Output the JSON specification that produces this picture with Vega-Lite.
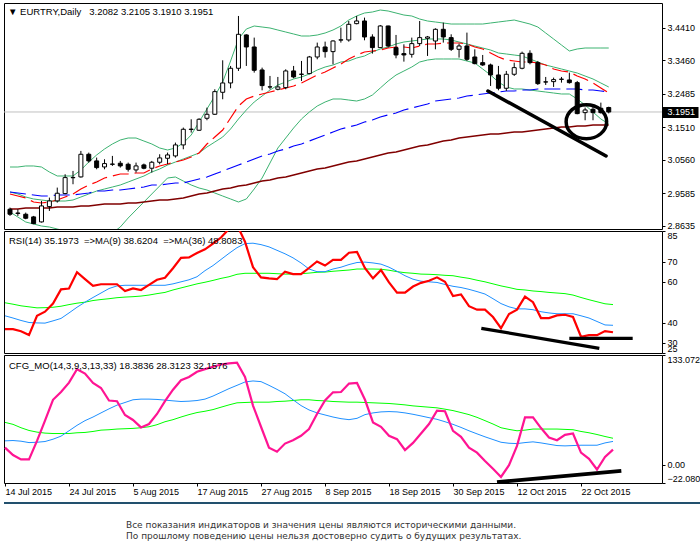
{
  "$schema": "https://vega.github.io/schema/vega-lite/v6.json",
  "padding": {"left": 2, "top": 2, "right": 0, "bottom": 0},
  "background": "white",
  "config": {
    "view": {"stroke": "#000000", "strokeWidth": 1},
    "axis": {"labelFont": "Liberation Sans", "labelFontSize": 9, "labelColor": "#000000", "tickColor": "#000000", "grid": false, "domain": false, "labelOverlap": false},
    "title": {"font": "Liberation Sans", "fontSize": 9.5, "fontWeight": "normal", "color": "#000000", "anchor": "start", "frame": "group"}
  },
  "datasets": {
    "bars": [
      {"d":"2015-07-14","o":2.9111,"h":2.9159,"l":2.8916,"c":2.8965,"bbUp":3.0344,"bbMid":2.9614,"bbLow":2.9030,"maFast":2.9556,"maMid":2.9614,"maSlow":2.9118,"rsi":36.7,"rsiMa9":43.3,"rsiMa36":49.7,"mo":20.8,"moBlue":29.0,"moGreen":51.4},
      {"d":"2015-07-15","o":2.9000,"h":2.9111,"l":2.8916,"c":2.8990,"bbUp":3.0344,"bbMid":2.9556,"bbLow":2.8884,"maFast":2.9497,"maMid":2.9585,"maSlow":2.9118,"rsi":36.7,"rsiMa9":42.2,"rsiMa36":49.0,"mo":11.8,"moBlue":29.4,"moGreen":49.0},
      {"d":"2015-07-16","o":2.8965,"h":2.9013,"l":2.8819,"c":2.8848,"bbUp":3.0374,"bbMid":2.9468,"bbLow":2.8738,"maFast":2.9439,"maMid":2.9556,"maSlow":2.9147,"rsi":35.7,"rsiMa9":41.0,"rsiMa36":48.2,"mo":6.5,"moBlue":28.6,"moGreen":44.9},
      {"d":"2015-07-17","o":2.8887,"h":2.8916,"l":2.8673,"c":2.8692,"bbUp":3.0374,"bbMid":2.9410,"bbLow":2.8680,"maFast":2.9322,"maMid":2.9527,"maSlow":2.9147,"rsi":33.8,"rsiMa9":40.0,"rsiMa36":47.7,"mo":6.5,"moBlue":26.9,"moGreen":41.6},
      {"d":"2015-07-20","o":2.8741,"h":2.9354,"l":2.8722,"c":2.9208,"bbUp":3.0344,"bbMid":2.9381,"bbLow":2.8621,"maFast":2.9293,"maMid":2.9497,"maSlow":2.9147,"rsi":43.3,"rsiMa9":39.8,"rsiMa36":47.2,"mo":29.0,"moBlue":27.3,"moGreen":39.6},
      {"d":"2015-07-21","o":2.9188,"h":2.9451,"l":2.9062,"c":2.9354,"bbUp":3.0198,"bbMid":2.9351,"bbLow":2.8592,"maFast":2.9322,"maMid":2.9497,"maSlow":2.9147,"rsi":45.3,"rsiMa9":39.7,"rsiMa36":47.3,"mo":53.5,"moBlue":28.2,"moGreen":38.4},
      {"d":"2015-07-22","o":2.9354,"h":2.9743,"l":2.9305,"c":2.9578,"bbUp":3.0082,"bbMid":2.9351,"bbLow":2.8534,"maFast":2.9381,"maMid":2.9527,"maSlow":2.9176,"rsi":49.3,"rsiMa9":40.8,"rsiMa36":47.5,"mo":78.8,"moBlue":31.0,"moGreen":37.9},
      {"d":"2015-07-23","o":2.9568,"h":3.0132,"l":2.9549,"c":3.0035,"bbUp":3.0082,"bbMid":2.9351,"bbLow":2.8476,"maFast":2.9468,"maMid":2.9527,"maSlow":2.9176,"rsi":56.3,"rsiMa9":42.0,"rsiMa36":48.0,"mo":88.2,"moBlue":34.7,"moGreen":37.9},
      {"d":"2015-07-24","o":3.0030,"h":3.0230,"l":2.9841,"c":3.0040,"bbUp":3.0082,"bbMid":2.9381,"bbLow":2.8388,"maFast":2.9556,"maMid":2.9527,"maSlow":2.9176,"rsi":56.7,"rsiMa9":44.7,"rsiMa36":48.8,"mo":99.6,"moBlue":41.2,"moGreen":37.9},
      {"d":"2015-07-27","o":3.0055,"h":3.0814,"l":3.0035,"c":3.0716,"bbUp":3.0257,"bbMid":2.9468,"bbLow":2.8330,"maFast":2.9702,"maMid":2.9556,"maSlow":2.9206,"rsi":64.7,"rsiMa9":47.5,"rsiMa36":49.5,"mo":115.9,"moBlue":47.8,"moGreen":38.8},
      {"d":"2015-07-28","o":3.0716,"h":3.0765,"l":3.0473,"c":3.0522,"bbUp":3.0490,"bbMid":2.9556,"bbLow":2.8300,"maFast":2.9819,"maMid":2.9585,"maSlow":2.9206,"rsi":61.3,"rsiMa9":50.0,"rsiMa36":50.0,"mo":110.6,"moBlue":53.5,"moGreen":39.2},
      {"d":"2015-07-29","o":3.0522,"h":3.0619,"l":3.0278,"c":3.0327,"bbUp":3.0695,"bbMid":2.9643,"bbLow":2.8300,"maFast":2.9906,"maMid":2.9643,"maSlow":2.9235,"rsi":58.0,"rsiMa9":52.3,"rsiMa36":50.8,"mo":99.2,"moBlue":57.9,"moGreen":40.4},
      {"d":"2015-07-30","o":3.0346,"h":3.0570,"l":3.0278,"c":3.0444,"bbUp":3.0870,"bbMid":2.9702,"bbLow":2.8330,"maFast":3.0023,"maMid":2.9643,"maSlow":2.9264,"rsi":58.8,"rsiMa9":54.5,"rsiMa36":51.3,"mo":93.1,"moBlue":62.9,"moGreen":42.0},
      {"d":"2015-07-31","o":3.0430,"h":3.0668,"l":3.0376,"c":3.0424,"bbUp":3.1016,"bbMid":2.9760,"bbLow":2.8417,"maFast":3.0081,"maMid":2.9673,"maSlow":2.9264,"rsi":58.8,"rsiMa9":56.7,"rsiMa36":51.7,"mo":77.9,"moBlue":67.8,"moGreen":42.5},
      {"d":"2015-08-03","o":3.0454,"h":3.0522,"l":3.0327,"c":3.0376,"bbUp":3.1133,"bbMid":2.9819,"bbLow":2.8592,"maFast":3.0140,"maMid":2.9673,"maSlow":2.9264,"rsi":58.8,"rsiMa9":58.0,"rsiMa36":52.2,"mo":77.1,"moBlue":72.3,"moGreen":43.3},
      {"d":"2015-08-04","o":3.0424,"h":3.0473,"l":3.0210,"c":3.0278,"bbUp":3.1191,"bbMid":2.9906,"bbLow":2.8855,"maFast":3.0140,"maMid":2.9702,"maSlow":2.9293,"rsi":55.5,"rsiMa9":58.3,"rsiMa36":52.5,"mo":60.4,"moBlue":75.5,"moGreen":43.7},
      {"d":"2015-08-05","o":3.0259,"h":3.0473,"l":3.0181,"c":3.0376,"bbUp":3.1191,"bbMid":2.9994,"bbLow":2.9089,"maFast":3.0169,"maMid":2.9731,"maSlow":2.9293,"rsi":56.8,"rsiMa9":58.3,"rsiMa36":52.7,"mo":54.3,"moBlue":78.8,"moGreen":44.1},
      {"d":"2015-08-06","o":3.0405,"h":3.0444,"l":3.0278,"c":3.0308,"bbUp":3.1103,"bbMid":3.0081,"bbLow":2.9322,"maFast":3.0169,"maMid":2.9760,"maSlow":2.9322,"rsi":56.0,"rsiMa9":58.3,"rsiMa36":53.0,"mo":45.3,"moBlue":79.6,"moGreen":44.9},
      {"d":"2015-08-07","o":3.0308,"h":3.0522,"l":3.0181,"c":3.0483,"bbUp":3.1016,"bbMid":3.0198,"bbLow":2.9556,"maFast":3.0286,"maMid":2.9819,"maSlow":2.9351,"rsi":58.5,"rsiMa9":58.3,"rsiMa36":53.5,"mo":49.4,"moBlue":79.6,"moGreen":46.1},
      {"d":"2015-08-10","o":3.0483,"h":3.0716,"l":3.0424,"c":3.0609,"bbUp":3.0899,"bbMid":3.0286,"bbLow":2.9790,"maFast":3.0373,"maMid":2.9819,"maSlow":2.9381,"rsi":61.0,"rsiMa9":58.3,"rsiMa36":54.2,"mo":61.6,"moBlue":79.2,"moGreen":48.6},
      {"d":"2015-08-11","o":3.0599,"h":3.0765,"l":3.0424,"c":3.0697,"bbUp":3.0841,"bbMid":3.0402,"bbLow":3.0023,"maFast":3.0432,"maMid":2.9848,"maSlow":2.9381,"rsi":62.0,"rsiMa9":58.3,"rsiMa36":54.8,"mo":77.1,"moBlue":78.4,"moGreen":52.2},
      {"d":"2015-08-12","o":3.0668,"h":3.1057,"l":3.0619,"c":3.0989,"bbUp":3.0899,"bbMid":3.0490,"bbLow":3.0052,"maFast":3.0490,"maMid":2.9877,"maSlow":2.9410,"rsi":66.7,"rsiMa9":59.0,"rsiMa36":56.0,"mo":91.0,"moBlue":77.5,"moGreen":54.7},
      {"d":"2015-08-13","o":3.0989,"h":3.1495,"l":3.0862,"c":3.1446,"bbUp":3.1045,"bbMid":3.0578,"bbLow":2.9935,"maFast":3.0549,"maMid":2.9877,"maSlow":2.9439,"rsi":71.8,"rsiMa9":60.0,"rsiMa36":57.0,"mo":102.5,"moBlue":76.7,"moGreen":57.9},
      {"d":"2015-08-14","o":3.1440,"h":3.1738,"l":3.1349,"c":3.1450,"bbUp":3.1279,"bbMid":3.0665,"bbLow":2.9819,"maFast":3.0636,"maMid":2.9935,"maSlow":2.9497,"rsi":72.0,"rsiMa9":61.0,"rsiMa36":58.0,"mo":106.5,"moBlue":77.1,"moGreen":60.8},
      {"d":"2015-08-17","o":3.1417,"h":3.1767,"l":3.1397,"c":3.1738,"bbUp":3.1658,"bbMid":3.0753,"bbLow":2.9731,"maFast":3.0753,"maMid":2.9994,"maSlow":2.9556,"rsi":74.2,"rsiMa9":62.5,"rsiMa36":59.0,"mo":112.7,"moBlue":77.9,"moGreen":63.3},
      {"d":"2015-08-18","o":3.1767,"h":3.2078,"l":3.1709,"c":3.1884,"bbUp":3.2038,"bbMid":3.0928,"bbLow":2.9673,"maFast":3.1016,"maMid":3.0052,"maSlow":2.9585,"rsi":76.0,"rsiMa9":65.5,"rsiMa36":59.8,"mo":115.9,"moBlue":79.6,"moGreen":64.9},
      {"d":"2015-08-19","o":3.1884,"h":3.2614,"l":3.1864,"c":3.2545,"bbUp":3.2417,"bbMid":3.1074,"bbLow":2.9585,"maFast":3.1220,"maMid":3.0140,"maSlow":2.9643,"rsi":78.8,"rsiMa9":68.0,"rsiMa36":60.7,"mo":118.8,"moBlue":83.3,"moGreen":66.9},
      {"d":"2015-08-20","o":3.2526,"h":3.3460,"l":3.2322,"c":3.2798,"bbUp":3.2826,"bbMid":3.1220,"bbLow":2.9497,"maFast":3.1425,"maMid":3.0227,"maSlow":2.9702,"rsi":81.8,"rsiMa9":71.0,"rsiMa36":61.7,"mo":121.6,"moBlue":87.8,"moGreen":69.8},
      {"d":"2015-08-21","o":3.2798,"h":3.3295,"l":3.2643,"c":3.3227,"bbUp":3.3439,"bbMid":3.1454,"bbLow":2.9410,"maFast":3.1775,"maMid":3.0315,"maSlow":2.9731,"rsi":86.0,"rsiMa9":74.0,"rsiMa36":62.5,"mo":122.9,"moBlue":92.3,"moGreen":72.6},
      {"d":"2015-08-24","o":3.3227,"h":3.4754,"l":3.3149,"c":3.4219,"bbUp":3.4082,"bbMid":3.1746,"bbLow":2.9322,"maFast":3.2125,"maMid":3.0403,"maSlow":2.9790,"rsi":88.0,"rsiMa9":76.8,"rsiMa36":63.7,"mo":123.7,"moBlue":96.3,"moGreen":75.1},
      {"d":"2015-08-25","o":3.4200,"h":3.4219,"l":3.3295,"c":3.3849,"bbUp":3.4373,"bbMid":3.2009,"bbLow":2.9410,"maFast":3.2330,"maMid":3.0490,"maSlow":2.9819,"rsi":79.7,"rsiMa9":78.8,"rsiMa36":64.2,"mo":106.5,"moBlue":100.4,"moGreen":75.5},
      {"d":"2015-08-26","o":3.3849,"h":3.4122,"l":3.3100,"c":3.3168,"bbUp":3.4461,"bbMid":3.2242,"bbLow":2.9702,"maFast":3.2417,"maMid":3.0578,"maSlow":2.9877,"rsi":67.2,"rsiMa9":79.0,"rsiMa36":64.2,"mo":71.8,"moBlue":101.6,"moGreen":75.9},
      {"d":"2015-08-27","o":3.3178,"h":3.3246,"l":3.2584,"c":3.2721,"bbUp":3.4432,"bbMid":3.2417,"bbLow":3.0023,"maFast":3.2476,"maMid":3.0665,"maSlow":2.9935,"rsi":62.2,"rsiMa9":78.3,"rsiMa36":64.2,"mo":46.1,"moBlue":100.8,"moGreen":75.9},
      {"d":"2015-08-28","o":3.2685,"h":3.3003,"l":3.2614,"c":3.2680,"bbUp":3.4403,"bbMid":3.2592,"bbLow":3.0461,"maFast":3.2534,"maMid":3.0724,"maSlow":2.9965,"rsi":61.7,"rsiMa9":77.2,"rsiMa36":64.2,"mo":20.8,"moBlue":96.3,"moGreen":75.9},
      {"d":"2015-08-31","o":3.2614,"h":3.2974,"l":3.2584,"c":3.2682,"bbUp":3.4344,"bbMid":3.2738,"bbLow":3.0899,"maFast":3.2592,"maMid":3.0811,"maSlow":3.0023,"rsi":61.3,"rsiMa9":75.5,"rsiMa36":64.0,"mo":15.9,"moBlue":91.4,"moGreen":76.7},
      {"d":"2015-09-01","o":3.2662,"h":3.3197,"l":3.2614,"c":3.3149,"bbUp":3.4286,"bbMid":3.2826,"bbLow":3.1191,"maFast":3.2651,"maMid":3.0870,"maSlow":3.0052,"rsi":65.0,"rsiMa9":73.8,"rsiMa36":63.8,"mo":25.7,"moBlue":86.1,"moGreen":77.1},
      {"d":"2015-09-02","o":3.3149,"h":3.3295,"l":3.2935,"c":3.2974,"bbUp":3.4228,"bbMid":3.2914,"bbLow":3.1483,"maFast":3.2709,"maMid":3.0957,"maSlow":3.0111,"rsi":63.8,"rsiMa9":71.8,"rsiMa36":63.8,"mo":29.8,"moBlue":78.8,"moGreen":77.9},
      {"d":"2015-09-03","o":3.3055,"h":3.3441,"l":3.2857,"c":3.3050,"bbUp":3.4169,"bbMid":3.2972,"bbLow":3.1746,"maFast":3.2797,"maMid":3.1016,"maSlow":3.0169,"rsi":63.8,"rsiMa9":69.3,"rsiMa36":64.0,"mo":35.1,"moBlue":71.8,"moGreen":78.8},
      {"d":"2015-09-04","o":3.3071,"h":3.3587,"l":3.3052,"c":3.3557,"bbUp":3.4169,"bbMid":3.3060,"bbLow":3.1950,"maFast":3.2914,"maMid":3.1103,"maSlow":3.0227,"rsi":66.8,"rsiMa9":66.3,"rsiMa36":64.3,"mo":43.3,"moBlue":66.5,"moGreen":78.8},
      {"d":"2015-09-07","o":3.3557,"h":3.3976,"l":3.3489,"c":3.3849,"bbUp":3.4198,"bbMid":3.3176,"bbLow":3.2125,"maFast":3.3030,"maMid":3.1191,"maSlow":3.0286,"rsi":70.0,"rsiMa9":65.0,"rsiMa36":64.7,"mo":61.6,"moBlue":62.9,"moGreen":77.9},
      {"d":"2015-09-08","o":3.3849,"h":3.4005,"l":3.3538,"c":3.3713,"bbUp":3.4257,"bbMid":3.3264,"bbLow":3.2242,"maFast":3.3118,"maMid":3.1279,"maSlow":3.0315,"rsi":68.0,"rsiMa9":65.0,"rsiMa36":64.8,"mo":77.9,"moBlue":60.4,"moGreen":77.5},
      {"d":"2015-09-09","o":3.3713,"h":3.4044,"l":3.3343,"c":3.4024,"bbUp":3.4344,"bbMid":3.3322,"bbLow":3.2330,"maFast":3.3235,"maMid":3.1366,"maSlow":3.0373,"rsi":70.8,"rsiMa9":66.3,"rsiMa36":65.2,"mo":87.8,"moBlue":57.9,"moGreen":76.7},
      {"d":"2015-09-10","o":3.4050,"h":3.4414,"l":3.3976,"c":3.4058,"bbUp":3.4461,"bbMid":3.3410,"bbLow":3.2330,"maFast":3.3352,"maMid":3.1454,"maSlow":3.0432,"rsi":70.8,"rsiMa9":67.2,"rsiMa36":65.5,"mo":88.2,"moBlue":55.9,"moGreen":76.3},
      {"d":"2015-09-11","o":3.4054,"h":3.4608,"l":3.4005,"c":3.4511,"bbUp":3.4636,"bbMid":3.3439,"bbLow":3.2300,"maFast":3.3498,"maMid":3.1512,"maSlow":3.0490,"rsi":74.3,"rsiMa9":68.5,"rsiMa36":65.8,"mo":98.4,"moBlue":54.7,"moGreen":75.9},
      {"d":"2015-09-14","o":3.4530,"h":3.4754,"l":3.4511,"c":3.4608,"bbUp":3.4753,"bbMid":3.3527,"bbLow":3.2271,"maFast":3.3614,"maMid":3.1571,"maSlow":3.0519,"rsi":74.7,"rsiMa9":69.5,"rsiMa36":66.3,"mo":99.2,"moBlue":56.3,"moGreen":75.9},
      {"d":"2015-09-15","o":3.4608,"h":3.4706,"l":3.4044,"c":3.4141,"bbUp":3.4841,"bbMid":3.3585,"bbLow":3.2330,"maFast":3.3702,"maMid":3.1658,"maSlow":3.0578,"rsi":66.7,"rsiMa9":69.7,"rsiMa36":66.3,"mo":78.8,"moBlue":60.8,"moGreen":75.5},
      {"d":"2015-09-16","o":3.4141,"h":3.4219,"l":3.3655,"c":3.3830,"bbUp":3.4870,"bbMid":3.3702,"bbLow":3.2446,"maFast":3.3731,"maMid":3.1717,"maSlow":3.0636,"rsi":61.7,"rsiMa9":69.3,"rsiMa36":66.3,"mo":51.4,"moBlue":62.9,"moGreen":75.1},
      {"d":"2015-09-17","o":3.3830,"h":3.4491,"l":3.3820,"c":3.4462,"bbUp":3.4928,"bbMid":3.3790,"bbLow":3.2651,"maFast":3.3760,"maMid":3.1804,"maSlow":3.0695,"rsi":65.8,"rsiMa9":68.7,"rsiMa36":66.2,"mo":46.1,"moBlue":64.1,"moGreen":74.7},
      {"d":"2015-09-18","o":3.4462,"h":3.4470,"l":3.3830,"c":3.3878,"bbUp":3.4899,"bbMid":3.3848,"bbLow":3.2855,"maFast":3.3819,"maMid":3.1863,"maSlow":3.0753,"rsi":59.7,"rsiMa9":67.2,"rsiMa36":65.7,"mo":35.1,"moBlue":64.5,"moGreen":74.3},
      {"d":"2015-09-21","o":3.3830,"h":3.4200,"l":3.3518,"c":3.3616,"bbUp":3.4841,"bbMid":3.3936,"bbLow":3.3030,"maFast":3.3848,"maMid":3.1921,"maSlow":3.0782,"rsi":54.7,"rsiMa9":65.2,"rsiMa36":65.0,"mo":31.0,"moBlue":64.1,"moGreen":73.5},
      {"d":"2015-09-22","o":3.3655,"h":3.3927,"l":3.3421,"c":3.3616,"bbUp":3.4782,"bbMid":3.3994,"bbLow":3.3147,"maFast":3.3848,"maMid":3.2009,"maSlow":3.0841,"rsi":54.7,"rsiMa9":63.0,"rsiMa36":64.5,"mo":17.9,"moBlue":62.9,"moGreen":72.6},
      {"d":"2015-09-23","o":3.3635,"h":3.4122,"l":3.3538,"c":3.3947,"bbUp":3.4753,"bbMid":3.4023,"bbLow":3.3264,"maFast":3.3819,"maMid":3.2067,"maSlow":3.0899,"rsi":57.7,"rsiMa9":61.3,"rsiMa36":64.2,"mo":26.5,"moBlue":61.2,"moGreen":71.4},
      {"d":"2015-09-24","o":3.3947,"h":3.4608,"l":3.3878,"c":3.4122,"bbUp":3.4665,"bbMid":3.4052,"bbLow":3.3410,"maFast":3.3877,"maMid":3.2125,"maSlow":3.0957,"rsi":59.5,"rsiMa9":60.3,"rsiMa36":63.8,"mo":37.9,"moBlue":59.2,"moGreen":70.6},
      {"d":"2015-09-25","o":3.4102,"h":3.4170,"l":3.3587,"c":3.4141,"bbUp":3.4607,"bbMid":3.4082,"bbLow":3.3468,"maFast":3.3936,"maMid":3.2184,"maSlow":3.0986,"rsi":60.5,"rsiMa9":60.0,"rsiMa36":63.7,"mo":49.4,"moBlue":57.1,"moGreen":69.8},
      {"d":"2015-09-28","o":3.4024,"h":3.4394,"l":3.3781,"c":3.4365,"bbUp":3.4578,"bbMid":3.4082,"bbLow":3.3498,"maFast":3.3936,"maMid":3.2271,"maSlow":3.1045,"rsi":62.2,"rsiMa9":59.7,"rsiMa36":63.5,"mo":65.7,"moBlue":55.1,"moGreen":69.0},
      {"d":"2015-09-29","o":3.4365,"h":3.4560,"l":3.3976,"c":3.4141,"bbUp":3.4549,"bbMid":3.4082,"bbLow":3.3498,"maFast":3.3965,"maMid":3.2300,"maSlow":3.1103,"rsi":60.0,"rsiMa9":58.7,"rsiMa36":63.2,"mo":64.9,"moBlue":52.2,"moGreen":67.4},
      {"d":"2015-09-30","o":3.4122,"h":3.4219,"l":3.3733,"c":3.3781,"bbUp":3.4519,"bbMid":3.4052,"bbLow":3.3498,"maFast":3.3965,"maMid":3.2330,"maSlow":3.1133,"rsi":53.0,"rsiMa9":57.8,"rsiMa36":63.0,"mo":41.2,"moBlue":49.0,"moGreen":65.7},
      {"d":"2015-10-01","o":3.3781,"h":3.3947,"l":3.3538,"c":3.3878,"bbUp":3.4519,"bbMid":3.3994,"bbLow":3.3498,"maFast":3.3965,"maMid":3.2359,"maSlow":3.1191,"rsi":53.8,"rsiMa9":57.2,"rsiMa36":62.3,"mo":33.9,"moBlue":45.3,"moGreen":63.3},
      {"d":"2015-10-02","o":3.3878,"h":3.4268,"l":3.3441,"c":3.3489,"bbUp":3.4519,"bbMid":3.3936,"bbLow":3.3439,"maFast":3.3936,"maMid":3.2417,"maSlow":3.1220,"rsi":48.0,"rsiMa9":56.3,"rsiMa36":61.7,"mo":20.8,"moBlue":41.2,"moGreen":60.8},
      {"d":"2015-10-05","o":3.3557,"h":3.3781,"l":3.3343,"c":3.3363,"bbUp":3.4519,"bbMid":3.3877,"bbLow":3.3381,"maFast":3.3848,"maMid":3.2446,"maSlow":3.1249,"rsi":46.3,"rsiMa9":55.2,"rsiMa36":60.8,"mo":14.7,"moBlue":37.5,"moGreen":57.5},
      {"d":"2015-10-06","o":3.3392,"h":3.3616,"l":3.3295,"c":3.3324,"bbUp":3.4519,"bbMid":3.3819,"bbLow":3.3206,"maFast":3.3790,"maMid":3.2476,"maSlow":3.1279,"rsi":46.3,"rsiMa9":54.0,"rsiMa36":60.0,"mo":4.5,"moBlue":33.9,"moGreen":53.5},
      {"d":"2015-10-07","o":3.3324,"h":3.3363,"l":3.2711,"c":3.3032,"bbUp":3.4549,"bbMid":3.3760,"bbLow":3.3030,"maFast":3.3673,"maMid":3.2505,"maSlow":3.1308,"rsi":42.7,"rsiMa9":51.7,"rsiMa36":59.0,"mo":-4.9,"moBlue":30.6,"moGreen":49.4},
      {"d":"2015-10-08","o":3.3032,"h":3.3295,"l":3.2584,"c":3.2643,"bbUp":3.4578,"bbMid":3.3673,"bbLow":3.2826,"maFast":3.3556,"maMid":3.2534,"maSlow":3.1308,"rsi":37.2,"rsiMa9":49.3,"rsiMa36":58.0,"mo":-14.7,"moBlue":27.3,"moGreen":44.9},
      {"d":"2015-10-09","o":3.2643,"h":3.3149,"l":3.2565,"c":3.3052,"bbUp":3.4607,"bbMid":3.3644,"bbLow":3.2680,"maFast":3.3468,"maMid":3.2563,"maSlow":3.1337,"rsi":44.2,"rsiMa9":47.7,"rsiMa36":57.2,"mo":-0.4,"moBlue":26.1,"moGreen":42.9},
      {"d":"2015-10-12","o":3.3052,"h":3.3392,"l":3.3003,"c":3.3246,"bbUp":3.4636,"bbMid":3.3614,"bbLow":3.2622,"maFast":3.3439,"maMid":3.2563,"maSlow":3.1366,"rsi":46.3,"rsiMa9":46.7,"rsiMa36":56.3,"mo":22.9,"moBlue":25.7,"moGreen":41.2},
      {"d":"2015-10-13","o":3.3227,"h":3.3713,"l":3.3197,"c":3.3664,"bbUp":3.4578,"bbMid":3.3585,"bbLow":3.2622,"maFast":3.3410,"maMid":3.2592,"maSlow":3.1366,"rsi":52.7,"rsiMa9":46.7,"rsiMa36":56.0,"mo":57.5,"moBlue":26.9,"moGreen":42.0},
      {"d":"2015-10-14","o":3.3664,"h":3.3752,"l":3.3343,"c":3.3392,"bbUp":3.4519,"bbMid":3.3498,"bbLow":3.2592,"maFast":3.3410,"maMid":3.2592,"maSlow":3.1395,"rsi":50.0,"rsiMa9":46.3,"rsiMa36":55.5,"mo":57.5,"moBlue":27.8,"moGreen":43.3},
      {"d":"2015-10-15","o":3.3392,"h":3.3441,"l":3.2740,"c":3.2779,"bbUp":3.4432,"bbMid":3.3410,"bbLow":3.2563,"maFast":3.3381,"maMid":3.2622,"maSlow":3.1425,"rsi":42.2,"rsiMa9":45.3,"rsiMa36":55.2,"mo":44.5,"moBlue":26.5,"moGreen":43.3},
      {"d":"2015-10-16","o":3.2830,"h":3.2974,"l":3.2740,"c":3.2825,"bbUp":3.4257,"bbMid":3.3322,"bbLow":3.2534,"maFast":3.3322,"maMid":3.2622,"maSlow":3.1454,"rsi":42.2,"rsiMa9":44.7,"rsiMa36":54.8,"mo":33.1,"moBlue":24.9,"moGreen":43.3},
      {"d":"2015-10-19","o":3.2837,"h":3.2954,"l":3.2682,"c":3.2896,"bbUp":3.4082,"bbMid":3.3264,"bbLow":3.2505,"maFast":3.3206,"maMid":3.2622,"maSlow":3.1483,"rsi":43.5,"rsiMa9":44.3,"rsiMa36":54.5,"mo":29.8,"moBlue":23.3,"moGreen":43.3},
      {"d":"2015-10-20","o":3.2903,"h":3.2974,"l":3.2808,"c":3.2910,"bbUp":3.3906,"bbMid":3.3206,"bbLow":3.2476,"maFast":3.3147,"maMid":3.2622,"maSlow":3.1512,"rsi":43.8,"rsiMa9":44.3,"rsiMa36":54.2,"mo":36.3,"moBlue":22.9,"moGreen":42.9},
      {"d":"2015-10-21","o":3.2886,"h":3.3100,"l":3.2779,"c":3.2808,"bbUp":3.3731,"bbMid":3.3147,"bbLow":3.2476,"maFast":3.3118,"maMid":3.2622,"maSlow":3.1512,"rsi":42.7,"rsiMa9":44.3,"rsiMa36":53.5,"mo":37.9,"moBlue":23.3,"moGreen":42.5},
      {"d":"2015-10-22","o":3.2808,"h":3.2857,"l":3.1884,"c":3.1903,"bbUp":3.3790,"bbMid":3.3089,"bbLow":3.2330,"maFast":3.3001,"maMid":3.2622,"maSlow":3.1541,"rsi":33.0,"rsiMa9":43.3,"rsiMa36":52.3,"mo":14.7,"moBlue":23.7,"moGreen":40.4},
      {"d":"2015-10-23","o":3.1932,"h":3.2078,"l":3.1709,"c":3.2010,"bbUp":3.3819,"bbMid":3.3001,"bbLow":3.2154,"maFast":3.2914,"maMid":3.2592,"maSlow":3.1541,"rsi":33.8,"rsiMa9":42.2,"rsiMa36":51.2,"mo":7.3,"moBlue":23.7,"moGreen":38.8},
      {"d":"2015-10-26","o":3.2030,"h":3.2098,"l":3.1709,"c":3.1932,"bbUp":3.3819,"bbMid":3.2914,"bbLow":3.1950,"maFast":3.2797,"maMid":3.2592,"maSlow":3.1571,"rsi":33.8,"rsiMa9":40.5,"rsiMa36":50.2,"mo":-5.7,"moBlue":23.7,"moGreen":36.7},
      {"d":"2015-10-27","o":3.2059,"h":3.2224,"l":3.1903,"c":3.1932,"bbUp":3.3819,"bbMid":3.2797,"bbLow":3.1746,"maFast":3.2651,"maMid":3.2563,"maSlow":3.1571,"rsi":35.8,"rsiMa9":38.8,"rsiMa36":49.2,"mo":9.4,"moBlue":26.5,"moGreen":34.3},
      {"d":"2015-10-28","o":3.2082,"h":3.2105,"l":3.1910,"c":3.1951,"bbUp":3.3819,"bbMid":3.2680,"bbLow":3.1600,"maFast":3.2505,"maMid":3.2534,"maSlow":3.1571,"rsi":35.1973,"rsiMa9":38.6204,"rsiMa36":48.8083,"mo":18.3836,"moBlue":28.3123,"moGreen":32.1576}
    ]
  },
  "spacing": 5,
  "vconcat": [
    {
      "bounds": "flush",
      "spacing": 2,
      "vconcat": [
        {
          "width": 658,
          "height": 226,
          "data": {"name": "bars"},
          "transform": [{"window": [{"op": "row_number", "as": "n"}]}],
          "title": {"text": "▼ EURTRY,Daily\u00a0\u00a0 3.2082 3.2105 3.1910 3.1951", "offset": -13.2, "baseline": "top", "dx": 4},
          "layer": [
            {
              "data": {"values": [{"p": 3.1951}]},
              "mark": {"type": "rule", "color": "#c0c0c0", "strokeWidth": 1},
              "encoding": {
                "y": {
                  "field": "p", "type": "quantitative",
                  "scale": {"domain": [2.8534, 3.5133], "nice": false, "zero": false},
                  "axis": {
                    "orient": "right",
                    "title": null,
                    "values": [2.8635, 2.9585, 3.056, 3.151, 3.1951, 3.2485, 3.346, 3.441],
                    "tickCount": 40,
                    "format": ".4f",
                    "labelOverlap": false,
                    "labelFlush": false,
                    "labelBound": false,
                    "tickSize": {"condition": {"test": "abs(datum.value - 3.1951) < 0.00001", "value": 36}, "value": 3},
                    "tickWidth": {"condition": {"test": "abs(datum.value - 3.1951) < 0.00001", "value": 11}, "value": 1},
                    "labelPadding": {"condition": {"test": "abs(datum.value - 3.1951) < 0.00001", "value": -31}, "value": 2},
                    "labelColor": {"condition": {"test": "abs(datum.value - 3.1951) < 0.00001", "value": "#ffffff"}, "value": "#000000"}
                  }
                }
              }
            },
            {
              "mark": {"type": "line", "color": "#3cb371", "strokeWidth": 1, "clip": true},
              "encoding": {
                "x": {"field": "n", "type": "quantitative", "scale": {"domain": [0.875, 83.125], "nice": false, "zero": false}, "axis": null},
                "y": {"field": "bbUp", "type": "quantitative", "title": null}
              }
            },
            {
              "mark": {"type": "line", "color": "#3cb371", "strokeWidth": 1, "clip": true},
              "encoding": {"x": {"field": "n", "type": "quantitative", "axis": null}, "y": {"field": "bbMid", "type": "quantitative", "title": null}}
            },
            {
              "mark": {"type": "line", "color": "#3cb371", "strokeWidth": 1, "clip": true},
              "encoding": {"x": {"field": "n", "type": "quantitative", "axis": null}, "y": {"field": "bbLow", "type": "quantitative", "title": null}}
            },
            {
              "mark": {"type": "line", "color": "#800000", "strokeWidth": 1.5, "clip": true},
              "encoding": {"x": {"field": "n", "type": "quantitative", "axis": null}, "y": {"field": "maSlow", "type": "quantitative", "title": null}}
            },
            {
              "mark": {"type": "line", "color": "#0000ff", "strokeWidth": 1.2, "strokeDash": [16, 6], "clip": true},
              "encoding": {"x": {"field": "n", "type": "quantitative", "axis": null}, "y": {"field": "maMid", "type": "quantitative", "title": null}}
            },
            {
              "mark": {"type": "line", "color": "#ff0000", "strokeWidth": 1.2, "strokeDash": [16, 6], "clip": true},
              "encoding": {"x": {"field": "n", "type": "quantitative", "axis": null}, "y": {"field": "maFast", "type": "quantitative", "title": null}}
            },
            {
              "mark": {"type": "rule", "color": "#000000", "strokeWidth": 1},
              "encoding": {"x": {"field": "n", "type": "quantitative", "axis": null}, "y": {"field": "l", "type": "quantitative", "title": null}, "y2": {"field": "h"}}
            },
            {
              "mark": {"type": "bar", "size": 4, "stroke": "#000000", "strokeWidth": 1},
              "encoding": {
                "x": {"field": "n", "type": "quantitative", "axis": null},
                "y": {"field": "o", "type": "quantitative", "title": null},
                "y2": {"field": "c"},
                "fill": {"condition": {"test": "datum.c >= datum.o", "value": "#ffffff"}, "value": "#000000"}
              }
            },
            {
              "data": {"values": [{"t": 61.66, "p": 3.2563, "t2": 76.66, "p2": 3.0665}]},
              "mark": {"type": "rule", "color": "#000000", "strokeWidth": 3.5, "strokeCap": "round"},
              "encoding": {"x": {"field": "t", "type": "quantitative", "axis": null}, "y": {"field": "p", "type": "quantitative", "title": null}, "x2": {"field": "t2"}, "y2": {"field": "p2"}}
            },
            {
              "data": {"values": [{"t": 74.16, "p": 3.1667}]},
              "mark": {"type": "point", "shape": "M-1,0A1,0.84,0,1,0,1,0A1,0.84,0,1,0,-1,0Z", "size": 1640, "filled": false, "color": "#000000", "strokeWidth": 3.5, "opacity": 1},
              "encoding": {"x": {"field": "t", "type": "quantitative", "axis": null}, "y": {"field": "p", "type": "quantitative", "title": null}}
            }
          ]
        },
        {
          "width": 658,
          "height": 122,
          "data": {"name": "bars"},
          "transform": [{"window": [{"op": "row_number", "as": "n"}]}],
          "title": {"text": "RSI(14) 35.1973\u00a0\u00a0=>MA(9) 38.6204\u00a0\u00a0=>MA(36) 48.8083", "offset": -14.5, "baseline": "top", "dx": 5},
          "layer": [
            {
              "mark": {"type": "line", "color": "#00ff00", "strokeWidth": 1},
              "encoding": {
                "x": {"field": "n", "type": "quantitative", "scale": {"domain": [0.875, 83.125], "nice": false, "zero": false}, "axis": null},
                "y": {"field": "rsiMa36", "type": "quantitative", "scale": {"domain": [25, 85], "nice": false, "zero": false},
                  "axis": {"orient": "right", "title": null, "values": [25, 30, 40, 60, 70, 85], "tickCount": 40, "labelFlush": true, "labelOverlap": false, "tickSize": 3, "labelPadding": 2}}
              }
            },
            {
              "mark": {"type": "line", "color": "#1e90ff", "strokeWidth": 1},
              "encoding": {"x": {"field": "n", "type": "quantitative", "axis": null}, "y": {"field": "rsiMa9", "type": "quantitative", "title": null}}
            },
            {
              "mark": {"type": "line", "color": "#ff0000", "strokeWidth": 2.2, "clip": true},
              "encoding": {"x": {"field": "n", "type": "quantitative", "axis": null}, "y": {"field": "rsi", "type": "quantitative", "title": null}}
            },
            {
              "data": {"values": [{"t": 60.54, "p": 37.1, "t2": 75.29, "p2": 27.3}, {"t": 71.54, "p": 32.2, "t2": 79.46, "p2": 32.2}]},
              "mark": {"type": "rule", "color": "#000000", "strokeWidth": 3.2},
              "encoding": {"x": {"field": "t", "type": "quantitative", "axis": null}, "y": {"field": "p", "type": "quantitative", "title": null}, "x2": {"field": "t2"}, "y2": {"field": "p2"}}
            }
          ]
        },
        {
          "width": 658,
          "height": 128,
          "data": {"name": "bars"},
          "transform": [{"window": [{"op": "row_number", "as": "n"}]}],
          "title": {"text": "CFG_MO(14,3,9,3,13,33) 18.3836 28.3123 32.1576", "offset": -15.5, "baseline": "top", "dx": 5},
          "layer": [
            {
              "mark": {"type": "line", "color": "#00ff00", "strokeWidth": 1},
              "encoding": {
                "x": {"field": "n", "type": "quantitative", "scale": {"domain": [0.875, 83.125], "nice": false, "zero": false},
                  "axis": {
                    "title": null,
                    "values": [1, 9, 17, 25, 33, 41, 49, 57, 65, 73],
                    "tickCount": 40,
                    "labelExpr": "['14 Jul 2015','24 Jul 2015','5 Aug 2015','17 Aug 2015','27 Aug 2015','8 Sep 2015','18 Sep 2015','30 Sep 2015','12 Oct 2015','22 Oct 2015'][(datum.value - 1) / 8]",
                    "labelAlign": "left", "labelFlush": false, "labelOverlap": false, "tickSize": 3, "labelPadding": 1
                  }},
                "y": {"field": "moGreen", "type": "quantitative", "scale": {"domain": [-22.0807, 133.0727], "nice": false, "zero": false},
                  "axis": {"orient": "right", "title": null, "values": [-22.0807, 0, 133.0727], "tickCount": 40, "labelExpr": "datum.value == 0 ? '0.00' : format(datum.value, '.4f')", "labelFlush": true, "labelOverlap": false, "tickSize": 3, "labelPadding": 2}}
              }
            },
            {
              "mark": {"type": "line", "color": "#1e90ff", "strokeWidth": 1},
              "encoding": {"x": {"field": "n", "type": "quantitative", "title": null}, "y": {"field": "moBlue", "type": "quantitative", "title": null}}
            },
            {
              "mark": {"type": "line", "color": "#ff1493", "strokeWidth": 2.2, "clip": true},
              "encoding": {"x": {"field": "n", "type": "quantitative", "title": null}, "y": {"field": "mo", "type": "quantitative", "title": null}}
            },
            {
              "data": {"values": [{"t": 62.5, "p": -21.0, "t2": 78.04, "p2": -7.5}]},
              "mark": {"type": "rule", "color": "#000000", "strokeWidth": 3.8, "clip": true},
              "encoding": {"x": {"field": "t", "type": "quantitative", "title": null}, "y": {"field": "p", "type": "quantitative", "title": null}, "x2": {"field": "t2"}, "y2": {"field": "p2"}}
            }
          ]
        }
      ]
    },
    {
      "width": 698,
      "height": 2,
      "view": {"fill": "#22506d", "stroke": null},
      "data": {"values": []},
      "mark": "point",
      "encoding": {},
      "title": {
        "text": ["Все показания индикаторов и значения цены являются историческими данными.", "По прошлому поведению цены нельзя достоверно судить о будущих результатах."],
        "orient": "bottom", "anchor": "start", "dx": 122, "offset": 17, "baseline": "top",
        "font": "DejaVu Sans", "fontSize": 9, "color": "#333333", "lineHeight": 10.8
      }
    }
  ]
}
